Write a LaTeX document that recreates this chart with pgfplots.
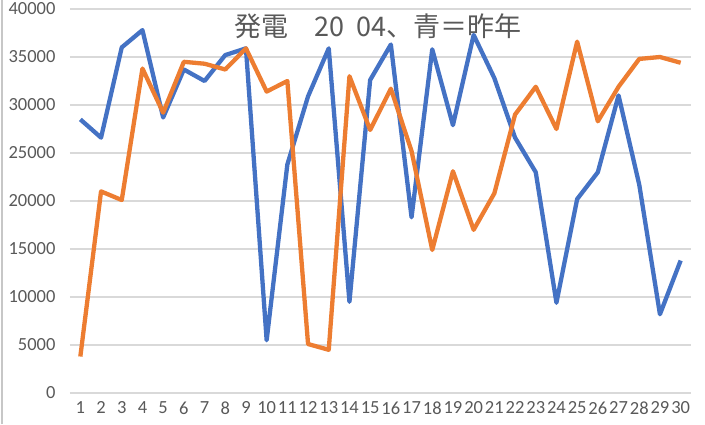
\documentclass[border=0pt]{standalone}
\usepackage{fontspec}
\setmainfont{Carlito}
\newfontfamily\cjk{Noto Sans CJK JP}
\usepackage{pgfplots}
\pgfplotsset{compat=1.18}

\definecolor{blueline}{HTML}{4472C4}
\definecolor{orangeline}{HTML}{ED7D31}
\definecolor{gridgray}{HTML}{D9D9D9}
\definecolor{textgray}{HTML}{595959}

% day, last year (blue), this year (orange)
\pgfplotstableread{
day blue orange
1  28500 3800
2  26600 21000
3  36000 20100
4  37800 33800
5  28700 29200
6  33700 34500
7  32500 34300
8  35200 33700
9  35900 35900
10 5500  31400
11 23800 32500
12 30900 5100
13 35900 4500
14 9500  33000
15 32600 27400
16 36300 31700
17 18300 25200
18 35800 14900
19 27900 23100
20 37300 17000
21 32800 20800
22 26600 29000
23 23000 31900
24 9400  27500
25 20200 36600
26 23000 28300
27 31000 31900
28 21700 34800
29 8200  35000
30 13800 34400
}\gendata

\begin{document}
\begin{tikzpicture}
\path[use as bounding box] (-70pt,-31pt) rectangle (635pt,393pt);
\draw[gridgray!80!gray, line width=1.2pt] (-68pt,-31pt) -- (-68pt,393pt);
\node[text=textgray, font=\cjk\fontsize{27}{30}\selectfont, anchor=center, inner sep=0pt] at (308pt,367pt)
  {発電\hspace{0.95em}20\hspace{0.45em}04、青＝昨年};
\begin{axis}[
  anchor=south west,
  scale only axis,
  width=621pt, height=384pt,
  xmin=0.5, xmax=30.5,
  ymin=0, ymax=40000,
  xtick={1,...,30},
  ytick distance=5000,
  ymajorgrids,
  grid style={gridgray, line width=1.3pt},
  axis line style={draw=none},
  tick style={draw=none},
  scaled y ticks=false,
  /pgf/number format/assume math mode=true,
  /pgf/number format/set thousands separator={},
  ticklabel style={text=textgray, font=\fontsize{18.5}{20}\selectfont},
  yticklabel style={xshift=-11pt},
  xticklabel style={yshift=-5pt},
  clip=false,
]
\addplot[blueline, line width=4.3pt, line join=round, mark=none] table[x=day,y=blue] {\gendata};
\addplot[orangeline, line width=4.3pt, line join=round, mark=none] table[x=day,y=orange] {\gendata};
\end{axis}
\end{tikzpicture}
\end{document}
